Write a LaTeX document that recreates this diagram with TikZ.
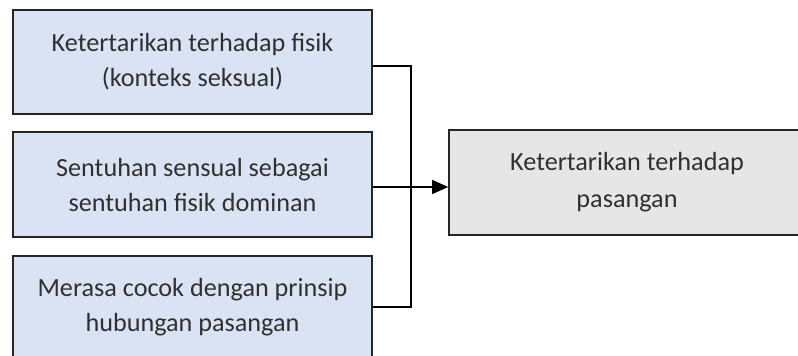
\documentclass[tikz,border=0pt]{standalone}
\usepackage{fontspec}
\setmainfont{Carlito}
\usetikzlibrary{arrows.meta}
\definecolor{boxblue}{HTML}{DAE3F3}
\definecolor{boxgrey}{HTML}{E7E6E6}
\definecolor{edge}{HTML}{262626}
\definecolor{txt}{HTML}{303030}
\begin{document}
\begin{tikzpicture}[x=1pt,y=-1pt,
  factor/.style={draw=edge, line width=1.6pt, fill=boxblue, minimum width=359pt,
    align=center, text=txt, font=\fontsize{26.2}{35}\selectfont, inner sep=0pt},
  result/.style={draw=edge, line width=1.6pt, fill=boxgrey, minimum width=356pt,
    minimum height=105pt, align=center, text=txt, font=\fontsize{26.2}{37}\selectfont, inner sep=0pt},
  link/.style={draw=black, line width=1.3pt}]
  \useasboundingbox (0,0) rectangle (798,356);
  \clip (0,0) rectangle (798,356);
  \node[factor, minimum height=104pt] (b1) at (192.5,62) {Ketertarikan terhadap fisik\\(konteks seksual)};
  \node[factor, minimum height=105pt] (b2) at (192.5,184.5) {Sentuhan sensual sebagai\\sentuhan fisik dominan};
  \node[factor, minimum height=102pt] (b3) at (192.5,307) {Merasa cocok dengan prinsip\\hubungan pasangan};
  \node[result] (r) at (627,182.5) {Ketertarikan terhadap\\pasangan};
  \coordinate (j) at (411,187);
  \draw[link] ([yshift=-4pt]b1.east) -| (j);
  \draw[link] (b3.east) -| (j);
  \draw[link, -{Triangle[length=16pt,width=14pt]}] ([yshift=-2.5pt]b2.east) -- ([yshift=-2.5pt]b2.east -| r.west);
\end{tikzpicture}
\end{document}
